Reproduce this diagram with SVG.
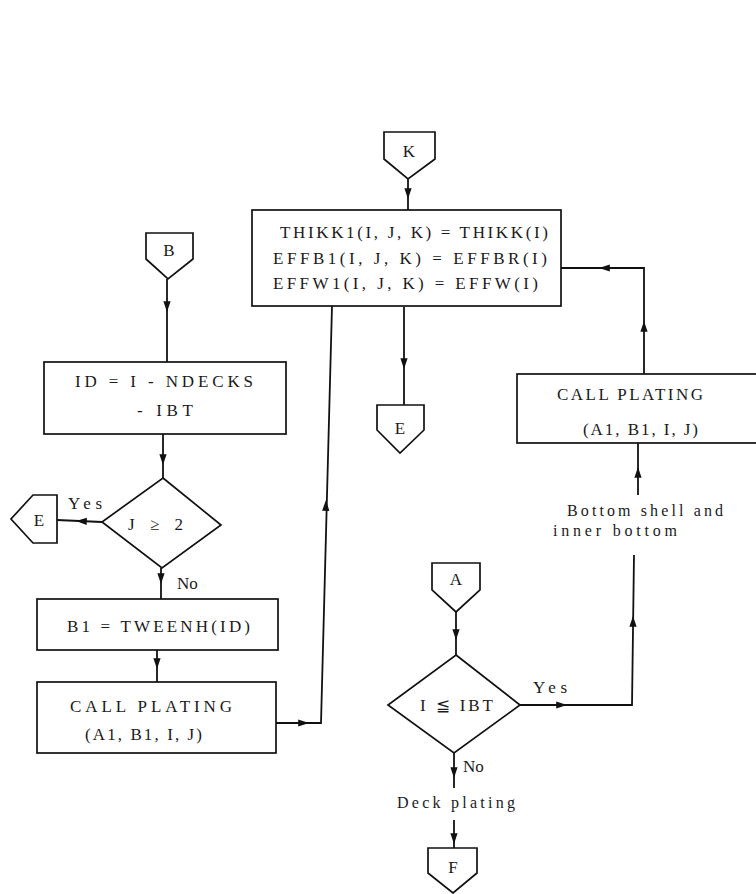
<svg xmlns="http://www.w3.org/2000/svg" width="756" height="894" viewBox="0 0 756 894">
  <defs>
    <marker id="ah" viewBox="0 0 12 10" refX="12" refY="5" markerUnits="userSpaceOnUse" markerWidth="12" markerHeight="9" orient="auto">
      <path d="M0,1 L12,5 L0,9 Z" fill="#111"/>
    </marker>
    <style>
      .box { fill: #fff; stroke: #111; stroke-width: 1.7; }
      .ln { fill: none; stroke: #111; stroke-width: 1.8; }
      .tip { fill: none; stroke: none; marker-end: url(#ah); }
      text { font-family: "Liberation Serif", "DejaVu Serif", serif; font-size: 17px; fill: #1a1a1a; }
      .c { text-anchor: middle; }
      .s { font-size: 16px; }
    </style>
  </defs>
  <rect width="756" height="894" fill="#fff"/>

  <!-- connectors -->
  <g id="connectors">
    <path class="ln" d="M408 179 L408 210"/>
    <path class="tip" d="M408 184 L408 199"/>
    <path class="ln" d="M404 307 L404 405"/>
    <path class="tip" d="M404 354 L404 369"/>
    <path class="ln" d="M167 279 L167 362"/>
    <path class="tip" d="M167 297 L167 312"/>
    <path class="ln" d="M163 434 L163 478"/>
    <path class="tip" d="M163 450 L163 465"/>
    <path class="ln" d="M102 522 L57 520"/>
    <path class="tip" d="M91 521.5 L76 521"/>
    <path class="ln" d="M161 568 L161 599"/>
    <path class="tip" d="M161 569 L161 584"/>
    <path class="ln" d="M157 650 L157 682"/>
    <path class="tip" d="M157 654 L157 669"/>
    <path class="ln" d="M276 723 L321 723 L332 306"/>
    <path class="tip" d="M293 723 L309 723"/>
    <path class="tip" d="M325.6 516 L326 500"/>
    <path class="ln" d="M456 612 L456 655"/>
    <path class="tip" d="M456 625 L456 640"/>
    <path class="ln" d="M520 705 L632 705 L634 555"/>
    <path class="tip" d="M551 705 L567 705"/>
    <path class="tip" d="M633 632 L633 616"/>
    <path class="ln" d="M638 495 L638 443"/>
    <path class="tip" d="M638 483 L638 467"/>
    <path class="ln" d="M644 375 L644 268 L561 268"/>
    <path class="tip" d="M644 337 L644 321"/>
    <path class="tip" d="M615 268 L599 268"/>
    <path class="ln" d="M454 753 L454 788"/>
    <path class="tip" d="M454 762 L454 778"/>
    <path class="ln" d="M454 820 L454 848"/>
    <path class="tip" d="M454 828 L454 844"/>
  </g>

  <!-- off-page connector K -->
  <g id="conn-K">
    <polygon class="box" points="384,132 435,132 435,159 408,179 384,159"/>
    <text class="c" x="409" y="157">K</text>
  </g>

  <!-- assignment block -->
  <g id="assign-thikk">
    <rect class="box" x="252" y="210" width="309" height="96"/>
    <text x="280" y="238" textLength="268" lengthAdjust="spacing">THIKK1(I, J, K)  =  THIKK(I)</text>
    <text x="273" y="264" textLength="274" lengthAdjust="spacing">EFFB1(I, J, K)  =  EFFBR(I)</text>
    <text x="273" y="289" textLength="265" lengthAdjust="spacing">EFFW1(I, J, K)  =  EFFW(I)</text>
  </g>

  <!-- off-page connector E (middle) -->
  <g id="conn-E-mid">
    <polygon class="box" points="377,405 424,405 424,430 400,453 377,430"/>
    <text class="c" x="400" y="434">E</text>
  </g>

  <!-- off-page connector B -->
  <g id="conn-B">
    <polygon class="box" points="146,233 193,233 193,259 168,279 146,259"/>
    <text class="c" x="169" y="256">B</text>
  </g>

  <!-- ID computation -->
  <g id="calc-id">
    <rect class="box" x="44" y="362" width="242" height="72"/>
    <text x="75" y="387" textLength="178" lengthAdjust="spacing">ID = I - NDECKS</text>
    <text x="137" y="416" textLength="56" lengthAdjust="spacing">- IBT</text>
  </g>

  <!-- decision on J -->
  <g id="decide-j">
    <polygon class="box" points="163,478 221,525 162,568 102,522"/>
    <text x="128" y="530" textLength="55" lengthAdjust="spacing">J ≥ 2</text>
    <text x="68" y="509" textLength="34" lengthAdjust="spacing">Yes</text>
    <text x="177" y="589">No</text>
  </g>

  <!-- off-page connector E (left) -->
  <g id="conn-E-left">
    <polygon class="box" points="57,495 33,495 11,519 33,543 57,543"/>
    <text class="c" x="39" y="526">E</text>
  </g>

  <!-- B1 assignment -->
  <g id="calc-b1">
    <rect class="box" x="37" y="599" width="241" height="51"/>
    <text x="67" y="632" textLength="183" lengthAdjust="spacing">B1  =  TWEENH(ID)</text>
  </g>

  <!-- plating call (left) -->
  <g id="call-left">
    <rect class="box" x="37" y="682" width="239" height="71"/>
    <text x="70" y="712" textLength="162" lengthAdjust="spacing">CALL PLATING</text>
    <text x="85" y="740" textLength="117" lengthAdjust="spacing">(A1, B1, I, J)</text>
  </g>

  <!-- plating call (right) -->
  <g id="call-right">
    <rect class="box" x="517" y="374" width="260" height="69"/>
    <text x="557" y="400" textLength="146" lengthAdjust="spacing">CALL PLATING</text>
    <text x="583" y="435" textLength="115" lengthAdjust="spacing">(A1, B1, I, J)</text>
  </g>

  <!-- branch label -->
  <g id="label-bottom">
    <text class="s" x="567" y="516" textLength="156" lengthAdjust="spacing">Bottom shell and</text>
    <text class="s" x="553" y="536" textLength="124" lengthAdjust="spacing">inner bottom</text>
  </g>

  <!-- off-page connector A -->
  <g id="conn-A">
    <polygon class="box" points="432,563 480,563 480,590 456,612 432,590"/>
    <text class="c" x="456" y="585">A</text>
  </g>

  <!-- decision on I -->
  <g id="decide-i">
    <polygon class="box" points="456,655 520,705 454,753 388,705"/>
    <text x="420" y="711" textLength="73" lengthAdjust="spacing">I  ≦ IBT</text>
    <text x="533" y="693" textLength="34" lengthAdjust="spacing">Yes</text>
    <text x="463" y="772">No</text>
  </g>

  <!-- branch label -->
  <g id="label-deck">
    <text class="s" x="397" y="808" textLength="118" lengthAdjust="spacing">Deck plating</text>
  </g>

  <!-- off-page connector F -->
  <g id="conn-F">
    <polygon class="box" points="428,848 477,848 477,873 453,893 428,873"/>
    <text class="c" x="453" y="873">F</text>
  </g>
</svg>
